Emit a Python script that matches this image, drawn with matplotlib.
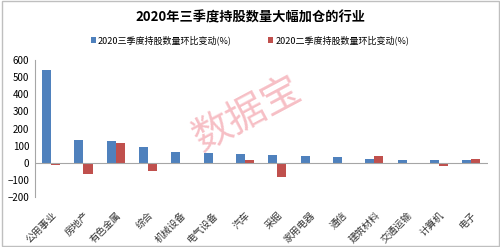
import numpy as np
from matplotlib import pyplot as plt
from matplotlib.patches import Rectangle

plt.rcParams['font.family'] = ['Noto Sans CJK SC', 'DejaVu Sans']

industries = ['公用事业', '房地产', '有色金属', '综合', '机械设备', '电气设备', '汽车',
              '采掘', '家用电器', '通信', '建筑材料', '交通运输', '计算机', '电子']
q3_change = [540, 134, 130, 95, 66, 58, 49, 47, 37, 33, 25, 19, 17, 15]
q2_change = [-15, -68, 113, -47, 0, -8, 15, -80, -5, -3, 37, -3, -19, 21]

fig = plt.figure(figsize=(5, 2.47), dpi=100)
ax = fig.add_axes([0.07, 0.202, 0.905, 0.555])

x = np.arange(len(industries))
w = 0.28
ax.bar(x - w/2, q3_change, w, color='#4F81BD', label='2020三季度持股数量环比变动(%)')
ax.bar(x + w/2, q2_change, w, color='#C0504D', label='2020二季度持股数量环比变动(%)')

ax.set_xlim(-0.5, len(industries) - 0.5)
ax.set_ylim(-200, 600)
ax.set_yticks(range(-200, 601, 100))
ax.tick_params(axis='y', labelsize=7, length=0, pad=4)
ax.tick_params(axis='x', length=0, pad=9)
ax.set_xticks(x)
ax.set_xticklabels(industries, rotation=45, ha='right', va='top',
                   rotation_mode='anchor', fontsize=7, color='#333333')
ax.axhline(0, color='#A6A6A6', lw=0.8)
for s in ['top', 'right', 'bottom']:
    ax.spines[s].set_visible(False)
ax.spines['left'].set_color('#A6A6A6')
ax.spines['left'].set_linewidth(0.8)

fig.text(0.5, 0.93, '2020年三季度持股数量大幅加仓的行业', ha='center', va='center',
         fontsize=9.5, fontweight='bold')
fig.legend(loc='center', bbox_to_anchor=(0.5, 0.837), ncol=2, fontsize=6.5,
           frameon=False, handlelength=0.6, handleheight=0.6, columnspacing=4,
           handletextpad=0.2)

fig.text(0.495, 0.54, '数据宝', ha='center', va='center', fontsize=28,
         rotation=28, color='#F08A96', alpha=0.55, fontweight='light')

fig.patches.append(Rectangle((0.003, 0.005), 0.994, 0.99, transform=fig.transFigure,
                             fill=False, edgecolor='#BFBFBF', lw=1))

fig.savefig('out.png', dpi=100)
